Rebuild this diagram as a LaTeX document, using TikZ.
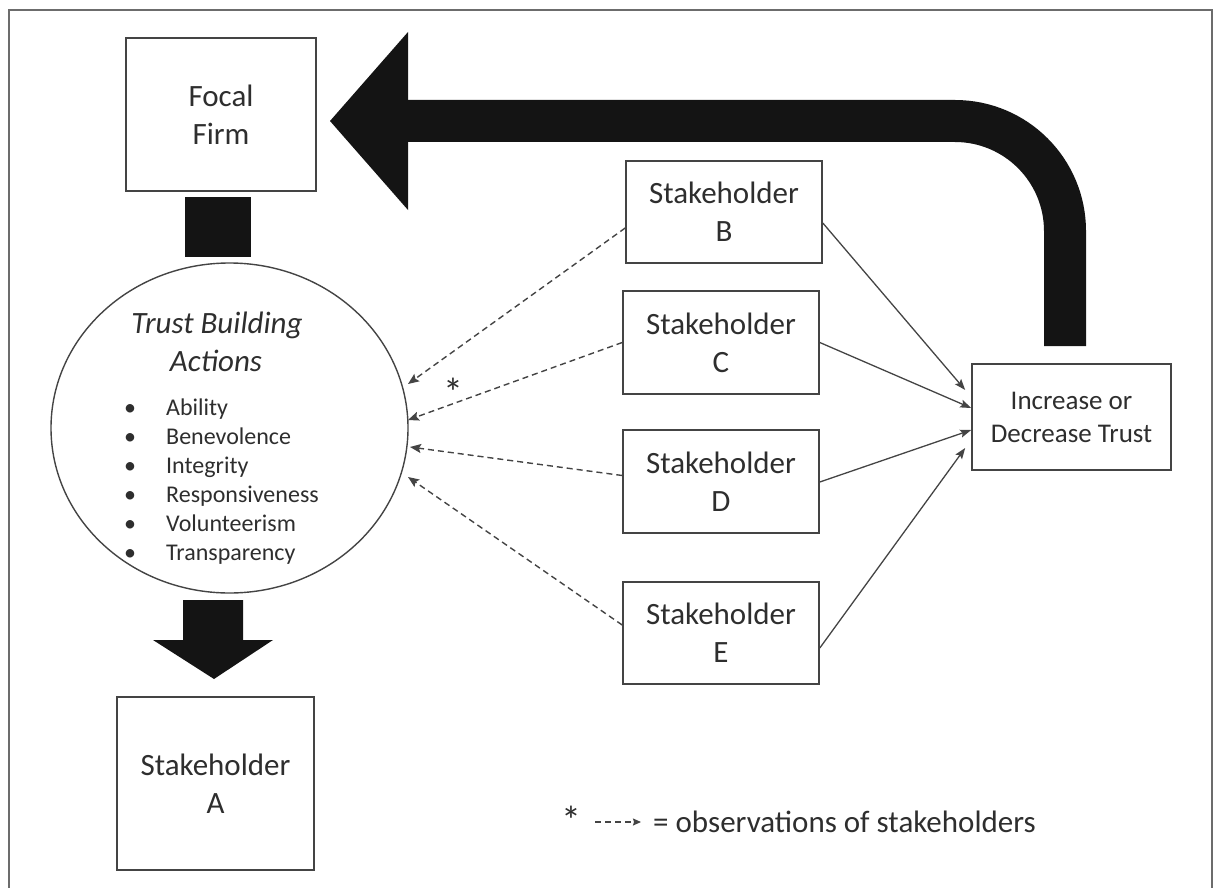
\documentclass[tikz,border=0pt]{standalone}
\usepackage{fontspec}
\setmainfont{Carlito}
\usetikzlibrary{arrows.meta,shapes.geometric}
\definecolor{txt}{HTML}{2E2E2E}
\definecolor{ln}{HTML}{444444}
\definecolor{blk}{HTML}{141414}
\tikzset{
  box/.style={draw=ln, line width=1.6pt, align=center, text=txt, inner sep=0pt,
              font=\fontsize{31}{38}\selectfont},
  obs/.style={draw=ln, line width=1.4pt, dash pattern=on 6pt off 4pt,
              -{Stealth[length=11pt,width=9pt,inset=2pt]}},
  infl/.style={draw=ln, line width=1.3pt, -{Stealth[length=11pt,width=8pt,inset=2pt]}},
  heavy/.style={fill=blk, draw=none},
  listitem/.style={anchor=base west, inner sep=0pt, text=txt, font=\fontsize{24}{29}\selectfont},
  bul/.style={anchor=base, inner sep=0pt, text=txt, font=\fontsize{24}{29}\selectfont},
  star/.style={inner sep=0pt, text=txt, font=\fontsize{40}{40}\selectfont}
}
\begin{document}
\begin{tikzpicture}[x=1pt,y=-1pt]
\useasboundingbox (0,0) rectangle (1218,888);
\clip (0,0) rectangle (1218,888);
% frame
\draw[draw=gray!85!black, line width=2pt] (9,10) rectangle (1212,905);

% nodes
\node[box, minimum width=190pt, minimum height=153pt] (focal) at (221,114.5) {Focal\\Firm};
\node[draw=ln, line width=1.4pt, ellipse, minimum width=357pt, minimum height=330pt, inner sep=0pt] (tba) at (229.5,428) {};
\node[box, minimum width=197pt, minimum height=173pt] (sa) at (215.5,783.5) {Stakeholder\\A};
\node[box, minimum width=196pt, minimum height=102pt] (sb) at (724,212) {Stakeholder\\B};
\node[box, minimum width=196pt, minimum height=103pt] (sc) at (721,342.5) {Stakeholder\\C};
\node[box, minimum width=196pt, minimum height=103pt] (sd) at (721,481.5) {Stakeholder\\D};
\node[box, minimum width=196pt, minimum height=102pt] (se) at (721,633) {Stakeholder\\E};
\node[box, minimum width=199pt, minimum height=106pt, font=\fontsize{27}{33}\selectfont] (inc) at (1071.5,417) {Increase or\\Decrease Trust};

% circle contents
\node[anchor=base, inner sep=0pt, text=txt, font=\fontsize{31}{38}\selectfont\itshape] (t1) at (217,333) {Trust Building};
\node[anchor=base, inner sep=0pt, text=txt, font=\fontsize{31}{38}\selectfont\itshape] (t2) at (216,371) {Actions};
\foreach \lbl [count=\i from 0] in {Ability,Benevolence,Integrity,Responsiveness,Volunteerism,Transparency}{
  \node[bul] (b\i) at (130,415+29*\i) {•};
  \node[listitem] (l\i) at (166,415+29*\i) {\lbl};
}

% heavy connector focal -> circle
\fill[heavy] (185,197) rectangle (251,257);
% heavy arrow circle -> stakeholder A
\fill[heavy] (183,600) -- (243,600) -- (243,640) -- (273,640) -- (214,679) -- (153,640) -- (183,640) -- cycle;

% big feedback arrow inc -> focal
\coordinate (fbstart) at ([xshift=-6.5pt,yshift=17pt]inc.north);
\coordinate (fbtip) at (330,121);
\draw[blk, line width=42pt, rounded corners=110pt] (fbstart) |- (406,121);
\fill[heavy] (408,32) -- (fbtip) -- (408,210) -- cycle;

% observations (dashed)
\draw[obs] ([yshift=-16pt]sb.west) -- (408,384);
\draw[obs] (sc.west) -- (408,420);
\draw[obs] ([yshift=6pt]sd.west) -- (410,447);
\draw[obs] ([yshift=8pt]se.west) -- (408,477);
\node[star] (ast) at (453,392) {*};

% influence on trust
\draw[infl] ([yshift=-11pt]sb.east) -- ([xshift=-6pt,yshift=27pt]inc.west);
\draw[infl] (sc.east) -- ([yshift=9pt]inc.west);
\draw[infl] ([yshift=-0.5pt]sd.east) -- ([yshift=-13pt]inc.west);
\draw[infl] ([yshift=-15pt]se.east) -- ([xshift=-6pt,yshift=-31pt]inc.west);

% legend
\node[star] (last) at (571,820) {*};
\coordinate (lstart) at (595,822);
\coordinate (lend) at (641,822);
\draw[draw=ln, line width=1.4pt, dash pattern=on 6pt off 4pt, -{Stealth[length=8pt,width=7pt,inset=1pt]}] (lstart) -- (lend);
\node[anchor=west, inner sep=0pt, text=txt, font=\fontsize{31}{38}\selectfont] (ltext) at (653,822) {= observations of stakeholders};
\end{tikzpicture}
\end{document}
